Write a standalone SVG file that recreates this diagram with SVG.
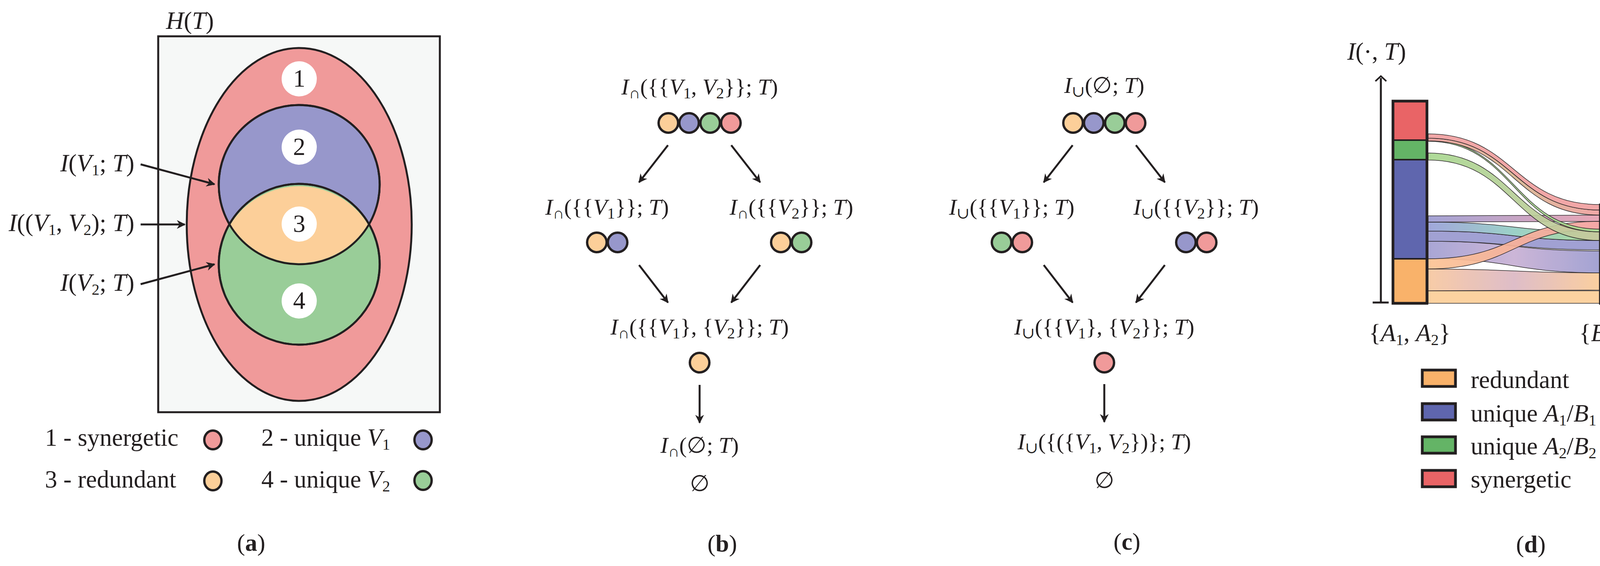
<svg xmlns="http://www.w3.org/2000/svg" width="4261" height="1450" viewBox="0 0 4261 1450">
<style>
text{font-family:"Liberation Serif","DejaVu Serif",serif;fill:#231f20}
.m{font-size:58px}
.la{font-size:63px}
.i{font-style:italic}
.sb{font-size:40px}
.cap{font-size:62px;font-weight:bold}
.dot{stroke:#231f20;stroke-width:6}
.arr{stroke:#231f20;stroke-width:5;fill:none;marker-end:url(#ah)}
.bar{stroke:#231f20;stroke-width:7}
.fl{stroke:#231f20;stroke-width:1.5;opacity:.92}
</style>
<defs>
<marker id="ah" viewBox="0 0 10 10" refX="9" refY="5" markerWidth="4.5" markerHeight="4.5" orient="auto" markerUnits="strokeWidth">
<path d="M0,0 L10,5 L0,10 L3,5 Z" fill="#231f20"/>
</marker>
<linearGradient id="g2"><stop offset="0" stop-color="#f0a0a0"/><stop offset="0.5" stop-color="#d6b690"/><stop offset="1" stop-color="#f0a0a0"/></linearGradient>
<linearGradient id="g3"><stop offset="0" stop-color="#a8d890"/><stop offset="1" stop-color="#c8c8a0"/></linearGradient>
<linearGradient id="g5"><stop offset="0" stop-color="#9c9cd2"/><stop offset="1" stop-color="#e8a0b0"/></linearGradient>
<linearGradient id="g6"><stop offset="0" stop-color="#9aa0d8"/><stop offset="0.5" stop-color="#94cec4"/><stop offset="1" stop-color="#a6d690"/></linearGradient>
<linearGradient id="g8"><stop offset="0" stop-color="#a29fd2"/><stop offset="0.5" stop-color="#c8b0d4"/><stop offset="1" stop-color="#9c9cd0"/></linearGradient>
<linearGradient id="g9"><stop offset="0" stop-color="#fcc494"/><stop offset="1" stop-color="#f4a0a0"/></linearGradient>
<linearGradient id="g10"><stop offset="0" stop-color="#f8c8a0"/><stop offset="0.5" stop-color="#dcb8c4"/><stop offset="1" stop-color="#fbcb98"/></linearGradient>
</defs>

<g id="panel-a">
<text class="la" x="425" y="74"><tspan class="i">H</tspan>(<tspan class="i">T</tspan>)</text>
<rect x="405" y="93" width="721" height="963" fill="#f6f8f7" stroke="#231f20" stroke-width="5"/>
<ellipse cx="766" cy="575" rx="288" ry="452" fill="#f09a9a" stroke="#231f20" stroke-width="5"/>
<ellipse cx="766" cy="473" rx="206" ry="204" fill="#9797cb" stroke="#231f20" stroke-width="5"/>
<ellipse cx="766" cy="677" rx="206" ry="206" fill="#99cd98" stroke="#231f20" stroke-width="5"/>
<path d="M590,575 A206,204 0 0 1 942,575 A206,206 0 0 1 590,575 Z" fill="#fccf99"/>
<ellipse cx="766" cy="473" rx="206" ry="204" fill="none" stroke="#231f20" stroke-width="5"/>
<ellipse cx="766" cy="677" rx="206" ry="206" fill="none" stroke="#231f20" stroke-width="5"/>
<g id="n1"><ellipse cx="766" cy="202" rx="45" ry="45" fill="#fff"/><text class="la" x="766" y="222" text-anchor="middle">1</text></g>
<g id="n2"><ellipse cx="766" cy="377" rx="45" ry="45" fill="#fff"/><text class="la" x="766" y="397" text-anchor="middle">2</text></g>
<g id="n3"><ellipse cx="766" cy="574" rx="45" ry="45" fill="#fff"/><text class="la" x="766" y="594" text-anchor="middle">3</text></g>
<g id="n4"><ellipse cx="766" cy="771" rx="45" ry="45" fill="#fff"/><text class="la" x="766" y="791" text-anchor="middle">4</text></g>
<text class="la" x="344" y="439" text-anchor="end"><tspan class="i">I</tspan>(<tspan class="i">V</tspan><tspan class="sb" dy="10">1</tspan><tspan dy="-10">; </tspan><tspan class="i">T</tspan>)</text>
<text class="la" x="344" y="592" text-anchor="end"><tspan class="i">I</tspan>((<tspan class="i">V</tspan><tspan class="sb" dy="10">1</tspan><tspan dy="-10">, </tspan><tspan class="i">V</tspan><tspan class="sb" dy="10">2</tspan><tspan dy="-10">); </tspan><tspan class="i">T</tspan>)</text>
<text class="la" x="344" y="745" text-anchor="end"><tspan class="i">I</tspan>(<tspan class="i">V</tspan><tspan class="sb" dy="10">2</tspan><tspan dy="-10">; </tspan><tspan class="i">T</tspan>)</text>
<g id="legend-a">
<text class="la" x="115" y="1142">1 - synergetic</text>
<ellipse class="dot" cx="545" cy="1127" rx="22" ry="24" fill="#f09a9a"/>
<text class="la" x="669" y="1142">2 - unique <tspan class="i">V</tspan><tspan class="sb" dy="10">1</tspan></text>
<ellipse class="dot" cx="1083" cy="1127" rx="22" ry="24" fill="#9797cb"/>
<text class="la" x="115" y="1249">3 - redundant</text>
<ellipse class="dot" cx="545" cy="1232" rx="22" ry="24" fill="#fccf99"/>
<text class="la" x="669" y="1249">4 - unique <tspan class="i">V</tspan><tspan class="sb" dy="10">2</tspan></text>
<ellipse class="dot" cx="1083" cy="1231" rx="22" ry="24" fill="#99cd98"/>
</g>
<text class="cap" x="643" y="1411" text-anchor="middle"><tspan font-weight="normal">(</tspan>a<tspan font-weight="normal">)</tspan></text>
</g>

<g id="connectors">
<path class="arr" d="M360,421 L549,472"/>
<path class="arr" d="M360,575 L473,575"/>
<path class="arr" d="M360,728 L549,677"/>
<path class="arr" d="M1710,372 L1636,467"/>
<path class="arr" d="M1872,372 L1946,467"/>
<path class="arr" d="M1636,679 L1710,775"/>
<path class="arr" d="M1946,679 L1872,775"/>
<path class="arr" d="M1791,986 L1791,1083"/>
<path class="arr" d="M2746,372 L2672,467"/>
<path class="arr" d="M2908,372 L2982,467"/>
<path class="arr" d="M2672,679 L2746,775"/>
<path class="arr" d="M2982,679 L2908,775"/>
<path class="arr" d="M2827,984 L2827,1081"/>
</g>

<g id="b-top">
<text class="m" x="1791" y="242" text-anchor="middle"><tspan class="i">I</tspan><tspan class="sb" dy="10">∩</tspan><tspan dy="-10">({{</tspan><tspan class="i">V</tspan><tspan class="sb" dy="10">1</tspan><tspan dy="-10">, </tspan><tspan class="i">V</tspan><tspan class="sb" dy="10">2</tspan><tspan dy="-10">}}; </tspan><tspan class="i">T</tspan>)</text>
<ellipse class="dot" cx="1711" cy="315" rx="25" ry="25" fill="#fccf99"/>
<ellipse class="dot" cx="1764" cy="315" rx="25" ry="25" fill="#9797cb"/>
<ellipse class="dot" cx="1818" cy="315" rx="25" ry="25" fill="#99cd98"/>
<ellipse class="dot" cx="1871" cy="315" rx="25" ry="25" fill="#f09a9a"/>
</g>
<g id="b-left">
<text class="m" x="1554" y="550" text-anchor="middle"><tspan class="i">I</tspan><tspan class="sb" dy="10">∩</tspan><tspan dy="-10">({{</tspan><tspan class="i">V</tspan><tspan class="sb" dy="10">1</tspan><tspan dy="-10">}}; </tspan><tspan class="i">T</tspan>)</text>
<ellipse class="dot" cx="1528" cy="621" rx="25" ry="25" fill="#fccf99"/>
<ellipse class="dot" cx="1581" cy="621" rx="25" ry="25" fill="#9797cb"/>
</g>
<g id="b-right">
<text class="m" x="2026" y="550" text-anchor="middle"><tspan class="i">I</tspan><tspan class="sb" dy="10">∩</tspan><tspan dy="-10">({{</tspan><tspan class="i">V</tspan><tspan class="sb" dy="10">2</tspan><tspan dy="-10">}}; </tspan><tspan class="i">T</tspan>)</text>
<ellipse class="dot" cx="1999" cy="621" rx="25" ry="25" fill="#fccf99"/>
<ellipse class="dot" cx="2052" cy="621" rx="25" ry="25" fill="#99cd98"/>
</g>
<g id="b-mid">
<text class="m" x="1791" y="857" text-anchor="middle"><tspan class="i">I</tspan><tspan class="sb" dy="10">∩</tspan><tspan dy="-10">({{</tspan><tspan class="i">V</tspan><tspan class="sb" dy="10">1</tspan><tspan dy="-10">}, {</tspan><tspan class="i">V</tspan><tspan class="sb" dy="10">2</tspan><tspan dy="-10">}}; </tspan><tspan class="i">T</tspan>)</text>
<ellipse class="dot" cx="1791" cy="929" rx="25" ry="25" fill="#fccf99"/>
</g>
<g id="b-bottom">
<text class="m" x="1791" y="1160" text-anchor="middle"><tspan class="i">I</tspan><tspan class="sb" dy="10">∩</tspan><tspan dy="-10">(∅; </tspan><tspan class="i">T</tspan>)</text>
<text class="m" x="1791" y="1258" text-anchor="middle">∅</text>
</g>
<text class="cap" x="1849" y="1413" text-anchor="middle"><tspan font-weight="normal">(</tspan>b<tspan font-weight="normal">)</tspan></text>

<g id="c-top">
<text class="m" x="2827" y="238" text-anchor="middle"><tspan class="i">I</tspan><tspan class="sb" dy="10">∪</tspan><tspan dy="-10">(∅; </tspan><tspan class="i">T</tspan>)</text>
<ellipse class="dot" cx="2747" cy="315" rx="25" ry="25" fill="#fccf99"/>
<ellipse class="dot" cx="2800" cy="315" rx="25" ry="25" fill="#9797cb"/>
<ellipse class="dot" cx="2854" cy="315" rx="25" ry="25" fill="#99cd98"/>
<ellipse class="dot" cx="2907" cy="315" rx="25" ry="25" fill="#f09a9a"/>
</g>
<g id="c-left">
<text class="m" x="2590" y="550" text-anchor="middle"><tspan class="i">I</tspan><tspan class="sb" dy="10">∪</tspan><tspan dy="-10">({{</tspan><tspan class="i">V</tspan><tspan class="sb" dy="10">1</tspan><tspan dy="-10">}}; </tspan><tspan class="i">T</tspan>)</text>
<ellipse class="dot" cx="2564" cy="621" rx="25" ry="25" fill="#99cd98"/>
<ellipse class="dot" cx="2617" cy="621" rx="25" ry="25" fill="#f09a9a"/>
</g>
<g id="c-right">
<text class="m" x="3062" y="550" text-anchor="middle"><tspan class="i">I</tspan><tspan class="sb" dy="10">∪</tspan><tspan dy="-10">({{</tspan><tspan class="i">V</tspan><tspan class="sb" dy="10">2</tspan><tspan dy="-10">}}; </tspan><tspan class="i">T</tspan>)</text>
<ellipse class="dot" cx="3036" cy="621" rx="25" ry="25" fill="#9797cb"/>
<ellipse class="dot" cx="3089" cy="621" rx="25" ry="25" fill="#f09a9a"/>
</g>
<g id="c-mid">
<text class="m" x="2827" y="857" text-anchor="middle"><tspan class="i">I</tspan><tspan class="sb" dy="10">∪</tspan><tspan dy="-10">({{</tspan><tspan class="i">V</tspan><tspan class="sb" dy="10">1</tspan><tspan dy="-10">}, {</tspan><tspan class="i">V</tspan><tspan class="sb" dy="10">2</tspan><tspan dy="-10">}}; </tspan><tspan class="i">T</tspan>)</text>
<ellipse class="dot" cx="2827" cy="929" rx="25" ry="25" fill="#f09a9a"/>
</g>
<g id="c-bottom">
<text class="m" x="2827" y="1151" text-anchor="middle"><tspan class="i">I</tspan><tspan class="sb" dy="10">∪</tspan><tspan dy="-10">({({</tspan><tspan class="i">V</tspan><tspan class="sb" dy="10">1</tspan><tspan dy="-10">, </tspan><tspan class="i">V</tspan><tspan class="sb" dy="10">2</tspan><tspan dy="-10">})}; </tspan><tspan class="i">T</tspan>)</text>
<text class="m" x="2827" y="1250" text-anchor="middle">∅</text>
</g>
<text class="cap" x="2885" y="1408" text-anchor="middle"><tspan font-weight="normal">(</tspan>c<tspan font-weight="normal">)</tspan></text>

<g id="panel-d">
<text class="la" x="3449" y="153"><tspan class="i">I</tspan>(·, <tspan class="i">T</tspan>)</text>
<path d="M3535,775 L3535,200" stroke="#231f20" stroke-width="5" fill="none"/>
<path d="M3521,208 L3535,195 L3549,208" stroke="#231f20" stroke-width="4" fill="none"/>
<path d="M3514,775 L3555,775" stroke="#231f20" stroke-width="5"/>
<g id="flows">
<path class="fl" fill="#fccf99" d="M3656,745 L4095,745 L4095,777 L3656,777 Z"/>
<path class="fl" fill="url(#g10)" d="M3656,689 C3875,689 3875,699 4095,699 L4095,743 C3875,743 3875,745 3656,745 Z"/>
<path class="fl" fill="url(#g8)" d="M3656,618 C3875,618 3875,643 4095,643 L4095,699 C3875,699 3875,663 3656,663 Z"/>
<path class="fl" fill="#9a9ad0" d="M3656,592 C3875,592 3875,616 4095,616 L4095,640 C3875,640 3875,618 3656,618 Z"/>
<path class="fl" fill="url(#g6)" d="M3656,569 C3875,569 3875,594 4095,594 L4095,616 C3875,616 3875,592 3656,592 Z"/>
<path class="fl" fill="url(#g5)" d="M3656,553 L4095,551 L4095,567 L3656,569 Z"/>
<path class="fl" fill="url(#g9)" d="M3656,663 C3875,663 3875,567 4095,567 L4095,587 C3875,587 3875,689 3656,689 Z"/>
<path class="fl" fill="url(#g3)" d="M3656,392 C3875,392 3875,594 4095,594 L4095,616 C3875,616 3875,410 3656,410 Z"/>
<path class="fl" fill="#a8d890" d="M3656,359 C3875,359 3875,587 4095,587 L4095,594 C3875,594 3875,362 3656,362 Z"/>
<path class="fl" fill="url(#g2)" d="M3656,354 C3875,354 3875,538 4095,538 L4095,551 C3875,551 3875,361 3656,361 Z"/>
<path class="fl" fill="#f0a0a0" d="M3656,343 C3875,343 3875,524 4095,524 L4095,538 C3875,538 3875,354 3656,354 Z"/>
</g>
<g id="bar-left">
<rect x="3566" y="259" width="87" height="100" fill="#e96466"/>
<rect x="3566" y="359" width="87" height="50" fill="#64b466"/>
<rect x="3566" y="409" width="87" height="254" fill="#5f66ae"/>
<rect x="3566" y="663" width="87" height="114" fill="#f9b26a"/>
<path d="M3566,359 H3653 M3566,409 H3653 M3566,663 H3653" stroke="#231f20" stroke-width="4"/>
<rect class="bar" x="3566" y="259" width="87" height="518" fill="none"/>
</g>
<g id="bar-right">
<rect x="4097" y="525" width="87" height="64" fill="#e96466"/>
<rect x="4097" y="589" width="87" height="25" fill="#64b466"/>
<rect x="4097" y="614" width="87" height="87" fill="#5f66ae"/>
<rect x="4097" y="701" width="87" height="76" fill="#f9b26a"/>
<path d="M4097,589 H4184 M4097,614 H4184 M4097,701 H4184" stroke="#231f20" stroke-width="4"/>
<rect class="bar" x="4097" y="525" width="87" height="252" fill="none"/>
</g>
<text class="la" x="3609" y="874" text-anchor="middle">{<tspan class="i">A</tspan><tspan class="sb" dy="10">1</tspan><tspan dy="-10">, </tspan><tspan class="i">A</tspan><tspan class="sb" dy="10">2</tspan><tspan dy="-10">}</tspan></text>
<text class="la" x="4236" y="874" text-anchor="end">{<tspan class="i">B</tspan><tspan class="sb" dy="10">1</tspan><tspan dy="-10">,</tspan><tspan class="i">B</tspan><tspan class="sb" dy="10">2</tspan><tspan dy="-10">}</tspan></text>
<g id="legend-d">
<rect class="bar" x="3641" y="948" width="85" height="42" fill="#f9b26a" stroke-width="5"/>
<text class="la" x="3765" y="994">redundant</text>
<rect class="bar" x="3641" y="1034" width="85" height="42" fill="#5f66ae" stroke-width="5"/>
<text class="la" x="3765" y="1080">unique <tspan class="i">A</tspan><tspan class="sb" dy="10">1</tspan><tspan dy="-10">/</tspan><tspan class="i">B</tspan><tspan class="sb" dy="10">1</tspan></text>
<rect class="bar" x="3641" y="1119" width="85" height="42" fill="#64b466" stroke-width="5"/>
<text class="la" x="3765" y="1164">unique <tspan class="i">A</tspan><tspan class="sb" dy="10">2</tspan><tspan dy="-10">/</tspan><tspan class="i">B</tspan><tspan class="sb" dy="10">2</tspan></text>
<rect class="bar" x="3641" y="1205" width="85" height="42" fill="#e96466" stroke-width="5"/>
<text class="la" x="3765" y="1249">synergetic</text>
</g>
<text class="cap" x="3919" y="1415" text-anchor="middle"><tspan font-weight="normal">(</tspan>d<tspan font-weight="normal">)</tspan></text>
</g>
</svg>
